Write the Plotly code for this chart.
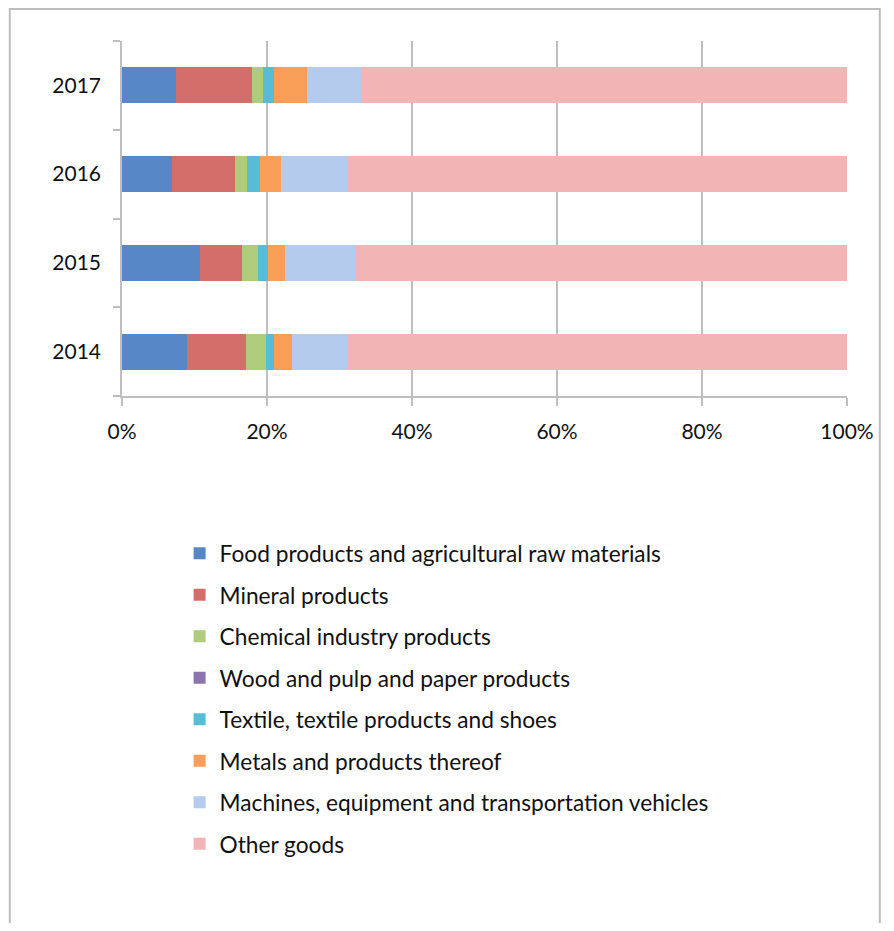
import plotly.graph_objects as go

years = ["2014", "2015", "2016", "2017"]
series_names = [
    "Food products and agricultural raw materials",
    "Mineral products",
    "Chemical industry products",
    "Wood and pulp and paper products",
    "Textile, textile products and shoes",
    "Metals and products thereof",
    "Machines, equipment and transportation vehicles",
    "Other goods",
]
food = [9.0, 10.8, 6.9, 7.5]
mineral = [8.1, 5.8, 8.7, 10.4]
chemical = [2.7, 2.1, 1.6, 1.5]
wood = [0.0, 0.0, 0.0, 0.0]
textile = [1.1, 1.5, 1.8, 1.6]
metals = [2.6, 2.3, 2.9, 4.5]
machines = [7.6, 9.7, 9.1, 7.5]
other = [68.9, 67.8, 69.0, 67.0]
x_ticks = [0, 20, 40, 60, 80, 100]
x_tick_labels = ["0%", "20%", "40%", "60%", "80%", "100%"]

values = [food, mineral, chemical, wood, textile, metals, machines, other]
colors = ["#5787C7", "#D46E6B", "#AFCB7C", "#8C74AE", "#58BCD6",
          "#F89E57", "#B5CBEE", "#F2B4B5"]

FONT = "Lato"
fig = go.Figure()
for name, vals, col in zip(series_names, values, colors):
    fig.add_trace(go.Bar(
        y=years, x=vals, name=name, orientation="h",
        marker=dict(color=col, line=dict(width=0)),
        width=0.405, legendgroup=name,
    ))

OFF = 8  # page body margin
W, H = 894 - 2 * OFF, 931 - 2 * OFF
L, R, T, B = 122 - OFF, 852 - OFF, 41 - OFF, 396 - OFF
pw, ph = R - L, B - T

def px_x(x):
    return (x - OFF - L) / pw

def px_y(y):
    return (B - (y - OFF)) / ph

fig.update_layout(
    width=W, height=H,
    barmode="stack",
    margin=dict(l=L, r=W - R, t=T, b=H - B, pad=0),
    paper_bgcolor="white", plot_bgcolor="white",
    font=dict(family=FONT, size=21, color="#111111"),
    showlegend=True,
    legend=dict(
        x=px_x(180), y=px_y(532), xanchor="left", yanchor="top",
        traceorder="grouped", tracegroupgap=9,
        font=dict(family=FONT, size=22.7, color="#111111"),
        bgcolor="rgba(0,0,0,0)",
    ),
    xaxis=dict(
        range=[0, 100], tickvals=x_ticks, ticktext=x_tick_labels,
        showgrid=True, gridcolor="#BEBEBE", gridwidth=1.5,
        showline=True, linecolor="#BEBEBE", linewidth=1.5,
        ticks="outside", ticklen=8, tickcolor="#BEBEBE", tickwidth=1.5,
        zeroline=False, ticklabelstandoff=8,
        tickfont=dict(family=FONT, size=21, color="#111111"),
        fixedrange=True,
    ),
    yaxis=dict(
        type="category", categoryorder="array", categoryarray=years,
        showgrid=False,
        showline=True, linecolor="#BEBEBE", linewidth=1.5,
        ticks="outside", ticklen=7, tickcolor="#BEBEBE", tickwidth=1.5,
        tickson="boundaries", ticklabelstandoff=15,
        tickfont=dict(family=FONT, size=21, color="#111111"),
        fixedrange=True,
    ),
    shapes=[dict(
        type="rect", xref="paper", yref="paper",
        x0=px_x(9), x1=px_x(885), y0=px_y(945), y1=px_y(9),
        line=dict(color="#BDBDBD", width=2), fillcolor="rgba(0,0,0,0)",
        layer="below",
    )],
)

fig.write_html("out.html")
